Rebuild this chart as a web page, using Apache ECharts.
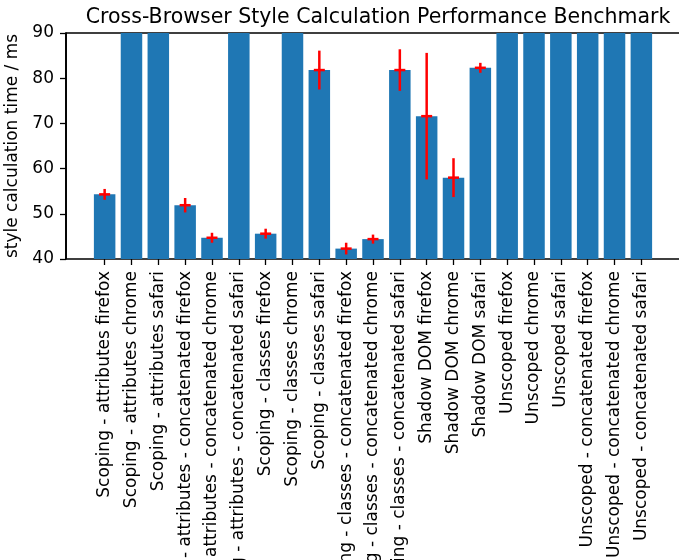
<!DOCTYPE html>
<html>
<head>
<meta charset="utf-8">
<script src="https://cdn.jsdelivr.net/npm/echarts@6/dist/echarts.min.js"></script>
<style>html,body{margin:0;padding:0;background:#fff}#c{width:679px;height:560px}</style>
</head>
<body>
<div id="c"></div>
<script>
const categories = [
  "Scoping - attributes firefox",
  "Scoping - attributes chrome",
  "Scoping - attributes safari",
  "Scoping - attributes - concatenated firefox",
  "Scoping - attributes - concatenated chrome",
  "Scoping - attributes - concatenated safari",
  "Scoping - classes firefox",
  "Scoping - classes chrome",
  "Scoping - classes safari",
  "Scoping - classes - concatenated firefox",
  "Scoping - classes - concatenated chrome",
  "Scoping - classes - concatenated safari",
  "Shadow DOM firefox",
  "Shadow DOM chrome",
  "Shadow DOM safari",
  "Unscoped firefox",
  "Unscoped chrome",
  "Unscoped safari",
  "Unscoped - concatenated firefox",
  "Unscoped - concatenated chrome",
  "Unscoped - concatenated safari"
];
// mean style calculation time (ms); bars above 90 are clipped in the reference
const means = [54.3, 110, 105, 51.9, 44.7, 108, 45.6, 112, 81.8, 42.3, 44.4, 81.8, 71.6, 58.0, 82.3, 120, 125, 118, 122, 128, 119];
// error (+/-)
const errors = [1.2, 3, 3, 1.6, 1.1, 3, 1.1, 3, 4.3, 1.3, 1.0, 4.6, 14.0, 4.3, 1.1, 3, 3, 3, 3, 3, 3];
const yTicks = [40, 50, 60, 70, 80, 90];

const chart = echarts.init(document.getElementById('c'), null, {renderer: 'canvas'});
const idx = categories.map((_, i) => i);
const FONT = 'DejaVu Sans';
const LW = 1.3;
const XMIN = -1.44, XMAX = 21.44;

chart.setOption({
  animation: false,
  title: {
    text: 'Cross-Browser Style Calculation Performance Benchmark',
    left: 373, top: 2, textAlign: 'center',
    textStyle: {fontFamily: FONT, fontSize: 20.5, fontWeight: 'normal', color: '#000'}
  },
  grid: {left: 66, right: -1, top: 33, bottom: 301, containLabel: false, outerBoundsMode: 'none',
    show: true, borderColor: '#000', borderWidth: LW, backgroundColor: 'transparent'},
  xAxis: {
    type: 'value', min: XMIN, max: XMAX,
    splitLine: {show: false},
    axisLine: {show: false, onZero: false},
    axisTick: {show: true, length: 6, lineStyle: {color: '#000', width: LW}, customValues: idx},
    axisLabel: {
      customValues: idx, rotate: 90, margin: 12,
      fontFamily: FONT, fontSize: 17, color: '#000',
      formatter: v => categories[Math.round(v)]
    }
  },
  yAxis: {
    type: 'value', min: 40, max: 90, interval: 10,
    name: 'style calculation time / ms', nameLocation: 'middle', nameGap: 40,
    nameTextStyle: {fontFamily: FONT, fontSize: 17, color: '#000'},
    splitLine: {show: false},
    axisLine: {show: true, onZero: false, lineStyle: {color: '#000', width: 1.5}},
    axisTick: {show: true, length: 6, lineStyle: {color: '#000', width: LW}},
    axisLabel: {fontFamily: FONT, fontSize: 17, color: '#000', margin: 12}
  },
  series: [
    {
      type: 'bar',
      data: idx.map(i => [i, means[i]]),
      barWidth: 21.5,
      itemStyle: {color: '#1f77b4'},
      clip: true
    },
    {
      type: 'custom',
      clip: true,
      data: idx.map(i => [i, means[i], errors[i]]),
      renderItem: (params, api) => {
        const x = api.value(0), m = api.value(1), e = api.value(2);
        const top = api.coord([x, m + e]);
        const bot = api.coord([x, m - e]);
        const mid = api.coord([x, m]);
        const st = {stroke: '#ff0000', lineWidth: 2.5};
        return {
          type: 'group',
          children: [
            {type: 'line', shape: {x1: top[0], y1: top[1], x2: bot[0], y2: bot[1]}, style: st},
            {type: 'line', shape: {x1: mid[0] - 5.5, y1: mid[1], x2: mid[0] + 5.5, y2: mid[1]}, style: st}
          ]
        };
      },
      z: 5
    }
  ]
});
// left spine drawn on top via the library's own scale
const pTop = chart.convertToPixel({gridIndex: 0}, [XMIN, 90]);
const pBot = chart.convertToPixel({gridIndex: 0}, [XMIN, 40]);
chart.setOption({
  graphic: [{
    type: 'line', z: 100,
    shape: {x1: pTop[0], y1: pTop[1], x2: pBot[0], y2: pBot[1]},
    style: {stroke: '#000', lineWidth: 1.5}
  }]
});
</script>
</body>
</html>
